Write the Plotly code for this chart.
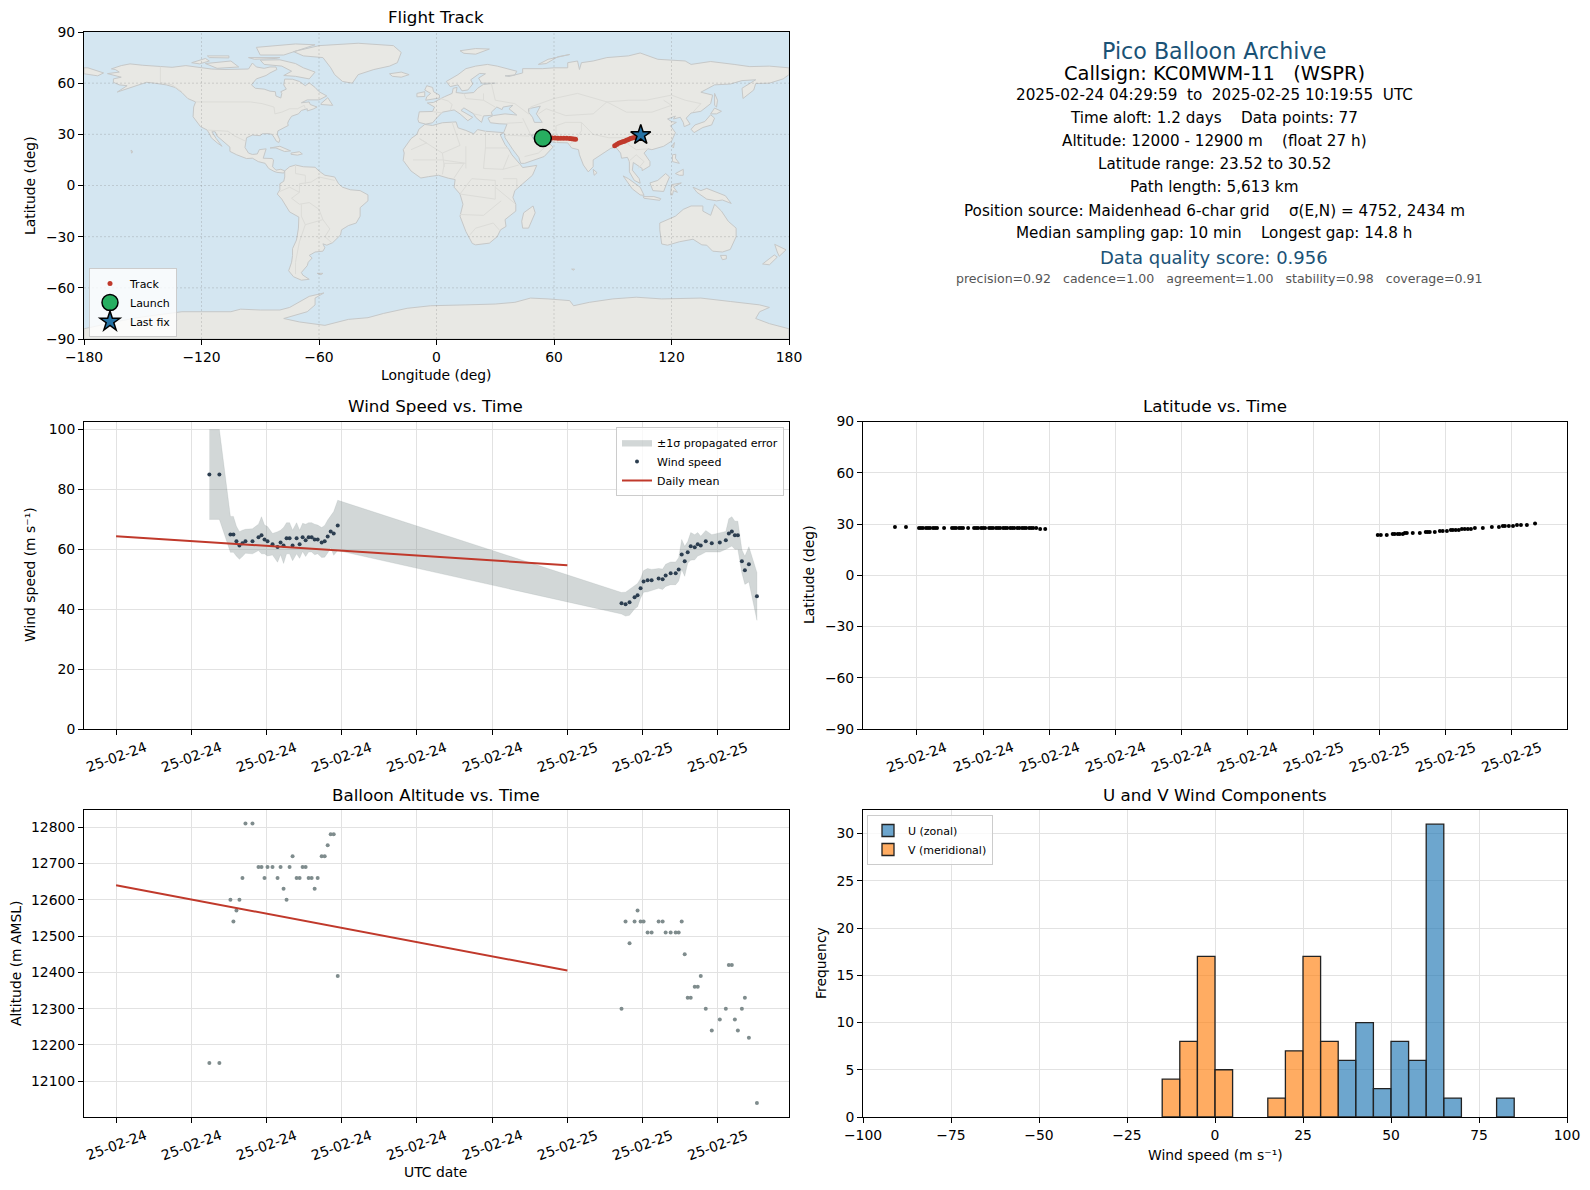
import plotly.graph_objects as go
import pandas as pd

W, H = 1590, 1190
FONT = "DejaVu Sans"
T0 = pd.Timestamp("2025-02-24")

# wind / altitude samples, hours after 2025-02-24 00:00 UTC
wind_hours = [9.72, 10.12, 10.56, 10.68, 10.80, 10.92, 11.04, 11.16, 11.44, 11.68, 11.80, 11.92,
              12.04, 12.24, 12.44, 12.56, 12.68, 12.80, 12.92, 13.04, 13.20, 13.32, 13.44, 13.56,
              13.68, 13.80, 13.92, 14.04, 14.20, 14.32, 14.44, 14.56, 14.68, 14.84,
              26.16, 26.32, 26.48, 26.68, 26.80, 26.92, 27.04, 27.20, 27.36, 27.64, 27.80, 27.92,
              28.12, 28.32, 28.44, 28.56, 28.68, 28.80, 28.92, 29.08, 29.20, 29.32, 29.52, 29.76,
              30.08, 30.32, 30.44, 30.56, 30.68, 30.80, 30.96, 31.08, 31.24, 31.56]
wind_speed = [85, 85, 65, 65, 62.7, 61.3, 62, 62.7, 62.7, 64, 64.7, 63.3,
              62.7, 61.7, 60.8, 62.3, 61.3, 63.7, 63.7, 61.3, 63.7, 61.7, 64, 63,
              64, 64, 63.3, 63.3, 62.3, 62.7, 64.3, 66, 65.3, 68,
              42, 41.7, 42.3, 44, 44.7, 47, 49.3, 49.7, 49.7, 50.3, 50, 51.3,
              52, 52, 53.3, 58.3, 56, 59, 61, 60.7, 61.7, 61.3, 62.7, 62,
              62.3, 63, 65.3, 66, 64.7, 64.7, 56, 53, 55, 44.3]
wind_err = [15, 15, 6, 6, 5, 4.6, 4.4, 4, 4.2, 4.4, 6.2, 4.8,
            4.9, 3.6, 5.1, 4.1, 6, 5.2, 5.2, 5.1, 5.2, 4.7, 4.7, 5.4,
            4.9, 4.9, 5.1, 4.8, 5, 5.3, 5.5, 5.4, 7.3, 8.4,
            3.6, 4, 4.3, 3.9, 3.9, 3.3, 3.6, 3.9, 3.6, 3.3, 3.4, 3.7,
            3.8, 3.8, 3.9, 5, 5, 3.6, 4.6, 4.2, 3.9, 3.1, 3.6, 2.9,
            3.2, 3, 4.9, 4.9, 4.7, 4.7, 3.9, 4.7, 5.9, 8]
altitude = [12150, 12150, 12600, 12540, 12570, 12600, 12660, 12810, 12810, 12690, 12690, 12660,
            12690, 12690, 12660, 12690, 12630, 12600, 12690, 12720, 12660, 12660, 12690, 12690,
            12660, 12660, 12630, 12660, 12720, 12720, 12750, 12780, 12780, 12390,
            12300, 12540, 12480, 12540, 12570, 12540, 12540, 12510, 12510, 12540, 12540, 12510,
            12510, 12510, 12510, 12540, 12450, 12330, 12330, 12360, 12360, 12390, 12300, 12240,
            12270, 12300, 12420, 12420, 12270, 12240, 12300, 12330, 12220, 12040]

mean_hours = [6, 24]
wind_mean = [64.4, 54.7]
alt_mean = [12640, 12405]

lat_hours = [5.0, 5.5, 6.09, 6.18, 6.27, 6.41, 6.5, 6.59, 6.73, 6.82, 6.91, 7.23, 7.59, 7.68, 7.77,
             7.91, 8.0, 8.09, 8.32, 8.59, 8.68, 8.77, 8.91, 9.0, 9.09, 9.27, 9.36, 9.45, 9.59, 9.68,
             9.77, 9.91, 10.0, 10.09, 10.23, 10.32, 10.41, 10.55, 10.64, 10.77, 10.86, 10.95, 11.09,
             11.18, 11.27, 11.41, 11.59, 11.82,
             26.91, 27.05, 27.32, 27.59, 27.68, 27.82, 27.91, 28.05, 28.14, 28.23, 28.5, 28.82, 29.09,
             29.18, 29.27, 29.5, 29.73, 29.86, 30.05, 30.23, 30.32, 30.45, 30.59, 30.73, 30.86, 31.0,
             31.14, 31.32, 31.68, 32.09, 32.41, 32.59, 32.68, 32.86, 33.05, 33.23, 33.41, 33.68, 34.05]
lat_deg = [28.25, 28.25, 27.66, 27.66, 27.66, 27.66, 27.66, 27.66, 27.66, 27.66, 27.66, 27.66, 27.66,
           27.66, 27.66, 27.66, 27.66, 27.66, 27.66, 27.66, 27.66, 27.66, 27.66, 27.66, 27.66, 27.66,
           27.66, 27.66, 27.66, 27.66, 27.66, 27.66, 27.66, 27.66, 27.66, 27.66, 27.66, 27.66, 27.66,
           27.66, 27.66, 27.66, 27.66, 27.66, 27.66, 27.66, 27.08, 27.08,
           23.57, 23.57, 23.57, 24.15, 24.15, 24.15, 24.15, 24.15, 24.74, 24.74, 24.74, 24.74, 25.32,
           25.32, 25.32, 25.32, 25.9, 25.9, 25.9, 26.5, 26.5, 26.5, 26.5, 27.08, 27.08, 27.08,
           27.08, 27.66, 27.66, 28.25, 28.25, 28.83, 28.83, 28.83, 28.83, 29.4, 29.4, 29.4, 30.3]

hist_u_centers = [37.5, 42.5, 47.5, 52.5, 57.5, 62.5, 67.5, 82.5]
hist_u_counts = [6, 10, 3, 8, 6, 31, 2, 2]
hist_v_centers = [-12.5, -7.5, -2.5, 2.5, 17.5, 22.5, 27.5, 32.5]
hist_v_counts = [4, 8, 17, 5, 2, 7, 17, 8]

track_lon = [55, 56, 57.5, 59, 60.5, 62, 63.5, 65, 66.5, 68, 69, 70, 71, None,
             91, 92, 93, 94, 95, 96, 97, 98, 99, 100, 101, 102, 103, 104]
track_lat = [28.2, 28, 27.9, 27.9, 27.8, 27.7, 27.7, 27.7, 27.7, 27.6, 27.4, 27.2, 27.1, None,
             23.3, 24, 24.7, 25.2, 25.6, 26, 26.5, 27, 27.5, 27.8, 28.2, 28.5, 29, 29.5]
launch_lon, launch_lat = [54.3], [27.9]
last_lon, last_lat = [104.3], [29.6]

date_ticks_wind = [6, 9, 12, 15, 18, 21, 24, 27, 30]
date_ticks_lat = [6, 9, 12, 15, 18, 21, 24, 27, 30, 33]
lon_ticks = [-180, -120, -60, 0, 60, 120, 180]
lat_ticks = [-90, -60, -30, 0, 30, 60, 90]

# land outlines, (lon, lat)
north_america = [(-168, 65.6), (-162, 66.5), (-164, 68), (-166, 68.4), (-161, 70.3), (-156.5, 71.3), (-150, 70.5),
                 (-141, 69.7), (-135, 69.3), (-128, 70.3), (-124, 69.8), (-115, 68.3), (-108, 68), (-102, 68),
                 (-96, 68.3), (-94, 71.8), (-92, 69.5), (-88, 68.7), (-85, 69.5), (-82, 69.5), (-81.5, 68), (-85, 66),
                 (-87, 64.5), (-92, 62.5), (-94.5, 59), (-92.5, 57), (-88, 56.5), (-85, 55.3), (-82.3, 55), (-82, 52.5),
                 (-79.5, 51.3), (-79, 54), (-79.5, 55), (-76.7, 56.5), (-78, 59), (-77.5, 62.4), (-73.5, 62.3), (-70, 61),
                 (-67, 58.5), (-65, 60.2), (-62, 57.5), (-60, 55), (-56, 52.5), (-60, 50.2), (-66, 50.2), (-69, 48.5),
                 (-65, 49), (-64.5, 47.5), (-61, 46), (-63, 44.8), (-66, 43.7), (-66, 45), (-69, 44), (-70.5, 42),
                 (-74, 40.6), (-75.5, 38), (-76, 36.5), (-75.7, 35.2), (-78, 33.9), (-81, 32), (-81.3, 30), (-80, 26.8),
                 (-80.5, 25.2), (-81.8, 26), (-82.8, 28), (-84, 30), (-86, 30.4), (-89, 30.3), (-90, 29.2), (-94, 29.6),
                 (-97, 28), (-97.5, 25), (-97.8, 22.3), (-96, 19), (-94, 18.2), (-91.5, 18.5), (-90.5, 21), (-87, 21.5),
                 (-87.8, 18.5), (-88.5, 16), (-84, 15.8), (-83.2, 15), (-83.7, 11), (-82, 9), (-79.5, 9.5), (-77.5, 8.6),
                 (-78, 7.3), (-80, 7.4), (-81.5, 7.7), (-83, 8.3), (-85.7, 10), (-87.5, 13), (-91, 14), (-94, 16),
                 (-97, 15.8), (-102, 18), (-105.5, 20), (-105.5, 22.5), (-109, 26), (-112, 29), (-113, 31.5),
                 (-114.7, 31.5), (-112.5, 27.5), (-110, 24), (-109.5, 23), (-112, 25), (-115, 28), (-116, 30.5),
                 (-117.2, 32.6), (-120.5, 34.5), (-122.5, 37.5), (-124.3, 40.3), (-124, 46), (-123, 49), (-127, 51),
                 (-130, 54.5), (-133.5, 57.5), (-138, 59), (-144, 60), (-148, 60.5), (-152, 59), (-158, 56.5),
                 (-163, 54.8), (-158, 58.5), (-162, 59), (-165, 60.5), (-165, 62.5), (-161, 63.5), (-165, 64.5),
                 (-168, 65.6)]
south_america = [(-77.5, 8.6), (-75, 11), (-72, 12), (-68, 11), (-62, 10.7), (-60, 8.5), (-57, 6), (-52, 5), (-50, 1),
                 (-48, -1), (-44, -2.5), (-39, -3), (-35, -5.5), (-35, -9), (-39, -13), (-39, -18), (-41, -22),
                 (-45, -23.5), (-48.5, -26), (-49, -29), (-53, -33.5), (-56, -35), (-58, -34.2), (-57, -36.5),
                 (-58, -38.5), (-62, -39), (-65, -41), (-63.5, -42.5), (-65.5, -45), (-66, -47), (-69, -51),
                 (-68.3, -52.5), (-65, -55), (-69, -55.5), (-73, -53.5), (-75.5, -50), (-74, -45), (-73.5, -41),
                 (-73.5, -37), (-71.5, -32), (-70.5, -25), (-70.3, -18.5), (-75, -15.5), (-79, -8), (-81.3, -5),
                 (-80, -2.5), (-80, 1), (-78, 2.5), (-77.5, 5), (-77.5, 8.6)]
africa = [(-6, 35.8), (-2, 35.2), (3, 36.8), (10, 37.3), (11, 33.8), (15, 32.3), (19, 30.3), (21, 32.8), (25, 31.8),
          (32, 31.2), (34.3, 31), (32.5, 29.8), (35, 24), (37, 21), (38.5, 18), (43, 12), (44, 10.5), (51.2, 11.8),
          (49, 6), (44, 1), (40, -3), (39, -7), (40.5, -11), (40.5, -15), (35, -20), (35.5, -24), (32.7, -26), (31, -30),
          (27, -33.8), (20, -34.8), (18.3, -34), (15, -27), (12, -18), (13.5, -11), (12, -5), (9, -1), (9.5, 3.5),
          (6, 4.3), (1, 6), (-4, 5.2), (-8, 4.4), (-13, 8.5), (-17, 14.7), (-16.5, 19), (-17, 21), (-13, 27.5),
          (-10, 30), (-9, 33), (-6, 35.8)]
eurasia = [(-9, 37), (-9.5, 38.8), (-8.8, 43.2), (-2, 43.4), (-1, 46), (-4.7, 48.4), (-1.5, 48.7), (2, 51), (4, 52),
           (8, 54), (8.5, 57), (10.5, 57.5), (10, 54.5), (14, 54), (19, 54.5), (21, 57), (24, 59.3), (30, 60), (23, 60),
           (21.5, 63), (25, 65.5), (22, 65.7), (17.5, 62), (18.5, 59.5), (16, 56), (13, 55.5), (11, 59), (7, 58), (5, 61),
           (11, 65), (15, 68.5), (20, 70), (26, 71), (31, 70), (41, 67), (40, 64.8), (35, 64.3), (37, 63.9), (44, 66),
           (44, 68.5), (54, 68.5), (60, 69), (67, 69), (67, 72), (72, 73), (73, 68), (74, 72), (80, 73), (87, 75),
           (98, 76), (104, 77.7), (113, 74), (127, 73), (130, 71), (140, 72.7), (152, 71), (160, 69.7), (170, 70),
           (180, 69), (180, 65), (177, 62.5), (170, 60), (163, 59.8), (162, 56), (156.5, 51), (156, 57), (163, 62),
           (156, 61.5), (150, 59.5), (142, 59), (135, 54.7), (141, 53), (140, 48), (135, 43.5), (130, 42.5),
           (127.5, 39.5), (129.5, 36), (126.5, 34.5), (126, 37), (124.5, 40), (121, 39), (122, 40.7), (118, 39),
           (120, 37.5), (122.5, 37), (119.5, 35), (122, 31), (120, 26), (116, 23), (110, 21), (108, 21.5), (106, 19),
           (109, 14), (109, 11.5), (105, 8.7), (105, 10), (100.5, 13.5), (100, 9), (103.5, 4), (104, 1.3), (101, 3),
           (98.5, 8), (98.5, 14), (97.5, 16.5), (94.5, 16), (94, 19), (91.5, 22.5), (89, 21.8), (86.5, 20), (82, 16.5),
           (80, 15), (80, 11), (77.5, 8), (75, 12), (73, 18), (72.5, 21), (69, 22), (67, 25), (61, 25.2), (57, 26),
           (56, 27), (51, 28), (48, 30), (50, 26.5), (51.5, 25), (54, 24), (56.5, 26), (59.5, 22.5), (55, 17), (45, 13),
           (43, 13), (42, 16.5), (39, 21), (35, 28), (34.9, 29.5), (34.3, 31), (36, 36), (32, 36.2), (27.5, 36.8),
           (26.3, 39.5), (29, 41), (35, 42), (41, 41.3), (37, 45), (39, 47), (34, 46), (33.5, 44.5), (30.8, 46), (28, 43),
           (28.5, 41.2), (24, 40.8), (23, 37), (20, 40), (19, 42), (14, 45.5), (12.5, 44), (16, 41.5), (18.5, 40),
           (16, 38), (12, 42), (9, 44.3), (3, 43), (0, 39.5), (-2, 36.8), (-5.5, 36), (-9, 37)]
australia = [(114, -22), (122, -18), (126, -14), (130, -12), (136, -12), (136, -15), (140, -17.5), (142, -11),
             (145.5, -15), (149, -21), (153, -25), (153, -30), (150, -37.5), (146, -39), (141, -38.5), (138, -35),
             (135.5, -34.8), (131, -31.5), (124, -33), (118, -35), (115, -34.3), (114, -26), (114, -22)]
antarctica = [(-180, -84), (-160, -79), (-150, -77), (-130, -74), (-105, -74), (-100, -72.5), (-90, -73), (-80, -73),
              (-75, -71.5), (-70, -68), (-65, -65), (-57.5, -63), (-62, -66), (-62, -70), (-66, -74), (-78, -78),
              (-70, -80), (-57, -82), (-45, -78.5), (-35, -77.5), (-27, -75), (-15, -72), (-3, -70.5), (15, -70),
              (30, -69.5), (40, -68.5), (48, -66), (57, -66.5), (68, -67.5), (70, -70.5), (78, -68.5), (90, -66.5),
              (102, -65.5), (115, -66.5), (135, -66), (150, -68), (165, -70), (170, -71.5), (165, -74), (163, -78),
              (170, -81), (180, -84), (180, -90), (-180, -90), (-180, -84)]
islands = [
    [(-73, 78.5), (-60, 82), (-40, 83.4), (-22, 82), (-18, 78), (-20, 72), (-24, 70), (-32, 68), (-40, 65), (-43, 60),
     (-48, 61), (-52, 65), (-54, 69), (-58, 75), (-68, 76), (-73, 78.5)],
    [(-80, 73.7), (-72, 71.5), (-68, 69), (-62, 66.5), (-65, 62.5), (-72, 64), (-78, 64.5), (-74, 67), (-79, 70),
     (-88, 71), (-90, 73.5), (-80, 73.7)],
    [(-118, 71.5), (-105, 73), (-101, 69.5), (-112, 68.7), (-118, 71.5)],
    [(-90, 76.5), (-78, 76.5), (-62, 82.5), (-72, 83), (-92, 81), (-90, 76.5)],
    [(-125, 72), (-118, 74.5), (-116, 73), (-121, 71.3), (-125, 72)],
    [(-96, 75), (-80, 75), (-82, 74.5), (-93, 74), (-96, 75)],
    [(-117, 76), (-106, 76), (-106, 74.8), (-116, 75), (-117, 76)],
    [(-59, 48), (-55.5, 51.5), (-53, 47), (-59, 47.5), (-59, 48)],
    [(-85, 22), (-80, 23), (-74.5, 20.3), (-77.5, 19.9), (-82, 22), (-85, 22)],
    [(-74.3, 19), (-70, 19.8), (-68.5, 18.5), (-71, 17.8), (-74.3, 18.3), (-74.3, 19)],
    [(-156, 20.8), (-155, 19.8), (-155.7, 19), (-156, 20.8)],
    [(49.3, -12), (50.4, -16), (47, -25), (44, -25), (43.5, -21), (44.5, -16), (49.3, -12)],
    [(-5.5, 50), (1.5, 51.3), (1.5, 53), (-1.5, 55), (-2, 57.5), (-5, 58.5), (-6, 56), (-3, 54), (-5, 52), (-5.5, 50)],
    [(-10, 52), (-6, 52.2), (-6, 55), (-10, 54), (-10, 52)],
    [(-24, 65.5), (-18, 66.5), (-14, 65), (-18, 63.5), (-22.5, 64), (-24, 65.5)],
    [(12, 79), (20, 80.3), (27, 80), (20, 77), (14, 77.5), (12, 79)],
    [(52, 71), (57, 74), (68, 76.8), (62, 75.5), (56, 71.5), (52, 71)],
    [(80, 9.5), (82, 7.5), (80.5, 6), (80, 9.5)],
    [(130, 33), (132, 35.5), (137, 37.5), (140, 41.5), (142, 39.5), (140.5, 35.5), (136, 34), (131.5, 31), (130, 33)],
    [(140, 42), (142, 45.4), (145.5, 43.5), (143, 42), (140, 42)],
    [(142, 54), (143.5, 50), (143, 46), (142, 47), (142, 54)],
    [(120.2, 23), (121.5, 25.2), (121, 22), (120.2, 23)],
    [(120.5, 18), (122.2, 18.3), (122, 16), (124, 13), (120.5, 14), (120.5, 18)],
    [(122, 7), (126, 9.5), (126, 6), (124, 6), (122, 7)],
    [(109, 1.5), (113, 3), (117, 7), (119, 5), (117.5, 1), (116, -3.5), (110.5, -3), (109, 1.5)],
    [(95.3, 5.6), (98, 4), (104, -1), (106, -5.8), (104, -5.5), (100, -2), (95.3, 5.6)],
    [(105.5, -6.5), (111, -6.5), (114.5, -7.7), (114, -8.7), (106, -7.5), (105.5, -6.5)],
    [(119.5, -5.5), (120, 0.5), (125, 1.5), (121, -0.8), (123, -4), (121, -3), (120.5, -5.5), (119.5, -5.5)],
    [(131, -1), (135, -3), (138, -1.7), (145, -5), (147.5, -6), (150.5, -10.5), (146, -8.5), (143, -9), (138, -8),
     (133, -4), (131, -1)],
    [(145, -41), (148, -41), (148, -43), (146, -43.5), (145, -41)],
    [(172.7, -34.5), (178.5, -37.7), (175, -41.5), (174, -39), (172.7, -34.5)],
    [(172.5, -40.7), (174, -42), (170, -46.5), (166.5, -46), (172.5, -40.7)],
    [(-61, -51.5), (-58, -51.5), (-59, -52.3), (-61, -51.5)],
    [(69, -49), (70.5, -49), (70, -49.7), (69, -49)],
    [(-180, 65.5), (-173, 64.3), (-170, 66), (-178, 69), (-180, 69), (-180, 65.5)],
]
caspian = [(47, 45), (53, 46.5), (51, 42), (54, 37), (50, 37), (49, 40), (47, 43), (47, 45)]

borders = [
    [(-141, 69.7), (-141, 60.3), (-135, 59), (-130, 55)],
    [(-123, 49), (-95, 49), (-89, 48), (-83, 46), (-82.5, 42), (-79, 43), (-75, 45), (-71, 45), (-67.5, 47), (-67, 45)],
    [(-117, 32.5), (-106.5, 31.8), (-103, 29), (-97.5, 26)],
    [(-52, 3), (-60, 5), (-64, 2), (-70, 1), (-70, -4), (-74, -7.5), (-70, -11), (-65, -10), (-60, -14), (-58, -20),
     (-54.5, -25.5), (-57, -30), (-53.5, -33.5)],
    [(-69, -18), (-67, -23), (-70, -33), (-72, -45), (-72, -52)],
    [(-69, -11), (-69, -18)], [(-67, -23), (-58, -20)],
    [(-72, 12), (-72, 7), (-67, 6), (-67, 1)], [(-80, -3.5), (-75, -1), (-70, -4)],
    [(-8.7, 27.5), (3, 19), (12, 23.5), (10, 30), (8, 37)], [(25, 31.8), (25, 22), (36.5, 22)],
    [(25, 22), (24, 10), (34, 9.5), (37, 18)], [(15, 23), (15, 10)], [(3, 19), (4, 11)],
    [(3, 6.5), (4, 13), (14, 13), (9, 4.5)], [(12, -5), (30, -8), (30, 3), (18, 4), (12, -5)],
    [(12, -17), (24, -17.5), (33, -9)], [(30, -1), (40, -10.5)], [(34, 4), (41, 4), (41, -1.5)],
    [(34, 9.5), (42, 12)], [(17, -29), (20, -25), (29, -22), (32, -26)], [(-13, 21), (-5, 25), (-8.7, 27.5)],
    [(-12, 15), (3, 15), (15, 13)],
    [(28, 60), (30, 50), (40, 48), (47, 42), (48, 46), (60, 51), (72, 54), (87, 49), (98, 50), (107, 50), (120, 53),
     (127, 50), (135, 48), (131, 43)],
    [(87, 49), (97, 43), (110, 43), (120, 47), (116, 50)],
    [(74, 37), (80, 30), (88, 28), (97, 28), (98, 24), (102, 21), (108, 21.5)],
    [(61, 25), (63, 27), (61, 30), (61, 35), (66, 37), (74, 37)], [(68, 24), (71, 27), (74, 32), (74, 37)],
    [(52, 42), (56, 45), (66, 41), (80, 42), (87, 49)], [(48, 30), (46, 35), (44, 39.5)],
    [(35, 29.5), (47, 29), (48, 30)], [(45, 17), (52, 19), (55, 22), (52, 24.5)], [(36, 36.5), (44, 37)],
    [(2, 51), (6, 49.5), (8, 47.5), (7, 44)], [(-1.7, 43.3), (3, 42.5)], [(14, 54), (15, 51), (24, 50), (24, 54)],
    [(24, 50), (30, 46)], [(19, 42), (23, 41)], [(98, 14), (102, 18), (106, 14), (103, 10)],
]


def hours_to_dates(hours):
    return [str(T0 + pd.to_timedelta(h, unit="h")) for h in hours]


def join_paths(paths):
    lon, lat = [], []
    for path in paths:
        lon += [p[0] for p in path] + [None]
        lat += [p[1] for p in path] + [None]
    return lon, lat


def dom_x(left, right):
    return [left / W, right / W]


def dom_y(top, bottom):
    return [1 - bottom / H, 1 - top / H]


def label(fig, px, py, text, size=13.9, color="black", angle=0):
    fig.add_annotation(x=px / W, y=1 - py / H, xref="paper", yref="paper", text=text, showarrow=False,
                       xanchor="center", yanchor="middle", textangle=angle, font=dict(size=size, color=color))


L0, L1, R0, R1 = 84, 789, 863, 1567
ROWS = [(32, 339), (421.5, 729), (809.5, 1117)]
GRID = "#e2e2e2"
RED = "#c0392b"

axis_style = dict(showline=True, mirror=True, linecolor="black", linewidth=1, ticks="outside", ticklen=5,
                  tickwidth=1, tickcolor="black", gridcolor=GRID, gridwidth=1, zeroline=False,
                  tickfont=dict(size=13.9, color="black"), layer="above traces")

fig = go.Figure()

# map
land_lon, land_lat = join_paths([north_america, south_america, africa, eurasia, australia, antarctica] + islands)
fig.add_trace(go.Scatter(x=land_lon, y=land_lat, mode="lines", fill="toself", fillcolor="#e8e8e4",
                         line=dict(color="#c6c8c8", width=1), showlegend=False, hoverinfo="skip"))
fig.add_trace(go.Scatter(x=[p[0] for p in caspian], y=[p[1] for p in caspian], mode="lines", fill="toself",
                         fillcolor="#d4e6f1", line=dict(color="#c6c8c8", width=1), showlegend=False, hoverinfo="skip"))
border_lon, border_lat = join_paths(borders)
fig.add_trace(go.Scatter(x=border_lon, y=border_lat, mode="lines", line=dict(color="#dcdcd8", width=1),
                         showlegend=False, hoverinfo="skip"))
grid_lon, grid_lat = [], []
for lon in lon_ticks[1:-1]:
    grid_lon += [lon, lon, None]
    grid_lat += [-90, 90, None]
for lat in lat_ticks[1:-1]:
    grid_lon += [-180, 180, None]
    grid_lat += [lat, lat, None]
fig.add_trace(go.Scatter(x=grid_lon, y=grid_lat, mode="lines", showlegend=False, hoverinfo="skip",
                         line=dict(color="rgba(120,120,120,0.25)", width=1, dash="2px,2px")))
fig.add_trace(go.Scatter(x=track_lon, y=track_lat, mode="markers", name="Track", legend="legend",
                         marker=dict(color=RED, size=5)))
fig.add_trace(go.Scatter(x=launch_lon, y=launch_lat, mode="markers", name="Launch", legend="legend",
                         marker=dict(color="#27ae60", size=17, line=dict(color="black", width=1.5))))
fig.add_trace(go.Scatter(x=last_lon, y=last_lat, mode="markers", name="Last fix", legend="legend",
                         marker=dict(color="#2471a3", size=15, symbol="star", line=dict(color="black", width=1.5))))

# wind speed
wind_dates = hours_to_dates(wind_hours)
upper = [v + e for v, e in zip(wind_speed, wind_err)]
lower = [v - e for v, e in zip(wind_speed, wind_err)]
fig.add_trace(go.Scatter(x=wind_dates + wind_dates[::-1], y=upper + lower[::-1], mode="lines", fill="toself",
                         fillcolor="rgba(127,140,141,0.35)", line=dict(color="rgba(127,140,141,0.15)", width=1),
                         name="±1σ propagated error", legend="legend2", xaxis="x2", yaxis="y2"))
fig.add_trace(go.Scatter(x=wind_dates, y=wind_speed, mode="markers", name="Wind speed", legend="legend2",
                         marker=dict(color="#2c3e50", size=4), xaxis="x2", yaxis="y2"))
fig.add_trace(go.Scatter(x=hours_to_dates(mean_hours), y=wind_mean, mode="lines", name="Daily mean", legend="legend2",
                         line=dict(color=RED, width=2), xaxis="x2", yaxis="y2"))

# latitude
fig.add_trace(go.Scatter(x=hours_to_dates(lat_hours), y=lat_deg, mode="markers", showlegend=False,
                         marker=dict(color="black", size=4), xaxis="x3", yaxis="y3"))

# altitude
fig.add_trace(go.Scatter(x=wind_dates, y=altitude, mode="markers", showlegend=False,
                         marker=dict(color="#7f8c8d", size=4), xaxis="x4", yaxis="y4"))
fig.add_trace(go.Scatter(x=hours_to_dates(mean_hours), y=alt_mean, mode="lines", showlegend=False,
                         line=dict(color=RED, width=2), xaxis="x4", yaxis="y4"))

# histogram
fig.add_trace(go.Bar(x=hist_u_centers, y=hist_u_counts, width=5, name="U (zonal)", legend="legend3",
                     marker=dict(color="rgba(31,119,180,0.65)", line=dict(color="#222", width=1.3)),
                     xaxis="x5", yaxis="y5"))
fig.add_trace(go.Bar(x=hist_v_centers, y=hist_v_counts, width=5, name="V (meridional)", legend="legend3",
                     marker=dict(color="rgba(255,127,14,0.65)", line=dict(color="#222", width=1.3)),
                     xaxis="x5", yaxis="y5"))

wind_range = hours_to_dates([4.72, 32.84])
lat_range = hours_to_dates([3.55, 35.5])
legend_style = dict(font=dict(size=11, color="black"), bgcolor="rgba(255,255,255,0.8)", bordercolor="#cccccc",
                    borderwidth=1, yanchor="top")

fig.update_layout(
    width=W, height=H, margin=dict(l=0, r=0, t=0, b=0, autoexpand=False), paper_bgcolor="white", plot_bgcolor="white",
    font=dict(family=FONT, color="black"), barmode="overlay", hovermode="closest",
    xaxis=dict(domain=dom_x(L0, L1), range=[-180, 180], tickvals=lon_ticks, showgrid=False, anchor="y", **axis_style),
    yaxis=dict(domain=dom_y(*ROWS[0]), range=[-90, 90], tickvals=lat_ticks, showgrid=False, anchor="x", **axis_style),
    xaxis2=dict(domain=dom_x(L0, L1), range=wind_range, tickvals=hours_to_dates(date_ticks_wind), showticklabels=False,
                anchor="y2", type="date", **axis_style),
    yaxis2=dict(domain=dom_y(*ROWS[1]), range=[0, 102.7], tickvals=[0, 20, 40, 60, 80, 100], anchor="x2", **axis_style),
    xaxis3=dict(domain=dom_x(R0, R1), range=lat_range, tickvals=hours_to_dates(date_ticks_lat), showticklabels=False,
                anchor="y3", type="date", **axis_style),
    yaxis3=dict(domain=dom_y(*ROWS[1]), range=[-90, 90], tickvals=lat_ticks, anchor="x3", **axis_style),
    xaxis4=dict(domain=dom_x(L0, L1), range=wind_range, tickvals=hours_to_dates(date_ticks_wind), showticklabels=False,
                anchor="y4", type="date", **axis_style),
    yaxis4=dict(domain=dom_y(*ROWS[2]), range=[12001.5, 12848.5], dtick=100, tick0=12000, tickformat="d", anchor="x4",
                **axis_style),
    xaxis5=dict(domain=dom_x(R0, R1), range=[-100, 100], tickvals=[-100, -75, -50, -25, 0, 25, 50, 75, 100],
                anchor="y5", **axis_style),
    yaxis5=dict(domain=dom_y(*ROWS[2]), range=[0, 32.55], tickvals=[0, 5, 10, 15, 20, 25, 30], anchor="x5", **axis_style),
    legend=dict(x=89 / W, y=1 - 268 / H, xanchor="left", **legend_style),
    legend2=dict(x=784 / W, y=1 - 427 / H, xanchor="right", **legend_style),
    legend3=dict(x=867 / W, y=1 - 815 / H, xanchor="left", **legend_style),
    shapes=[dict(type="rect", xref="x domain", yref="y domain", x0=0, x1=1, y0=0, y1=1, fillcolor="#d4e6f1",
                 line=dict(width=0), layer="below")],
)

# panel titles and axis titles
label(fig, 435.5, 17.5, "Flight Track", 16.7)
label(fig, 435.5, 405.5, "Wind Speed vs. Time", 16.7)
label(fig, 1215, 405.5, "Latitude vs. Time", 16.7)
label(fig, 435.5, 795, "Balloon Altitude vs. Time", 16.7)
label(fig, 1215, 795, "U and V Wind Components", 16.7)
label(fig, 436, 374.5, "Longitude (deg)")
label(fig, 435, 1172, "UTC date")
label(fig, 1215, 1155, "Wind speed (m s⁻¹)")
label(fig, 30, 186, "Latitude (deg)", angle=-90)
label(fig, 30, 575, "Wind speed (m s⁻¹)", angle=-90)
label(fig, 809, 575, "Latitude (deg)", angle=-90)
label(fig, 16, 963, "Altitude (m AMSL)", angle=-90)
label(fig, 821, 963, "Frequency", angle=-90)

# date tick labels are centred on the ticks, plotly would anchor them at the end
for axis, ticks, bottom in [("x2", date_ticks_wind, ROWS[1][1]), ("x3", date_ticks_lat, ROWS[1][1]),
                            ("x4", date_ticks_wind, ROWS[2][1])]:
    for date in hours_to_dates(ticks):
        fig.add_annotation(x=date, xref=axis, y=1 - (bottom + 28) / H, yref="paper", showarrow=False, textangle=-20,
                           text=pd.Timestamp(date).strftime("%y-%m-%d"), xanchor="center", yanchor="middle",
                           font=dict(size=13.9, color="black"))

# summary block
BLUE = "#1a5276"
label(fig, 1214, 51.5, "Pico Balloon Archive", 22.2, BLUE)
label(fig, 1214, 73.5, "Callsign: KC0MWM-11   (WSPR)", 19.4)
label(fig, 1214, 95, "2025-02-24 04:29:59  to  2025-02-25 10:19:55  UTC", 15.2)
label(fig, 1214, 118, "Time aloft: 1.2 days    Data points: 77", 15.2)
label(fig, 1214, 140.5, "Altitude: 12000 - 12900 m    (float 27 h)", 15.2)
label(fig, 1214, 164, "Latitude range: 23.52 to 30.52", 15.2)
label(fig, 1214, 186.5, "Path length: 5,613 km", 15.2)
label(fig, 1214, 210.5, "Position source: Maidenhead 6-char grid    σ(E,N) = 4752, 2434 m", 15.2)
label(fig, 1214, 233, "Median sampling gap: 10 min    Longest gap: 14.8 h", 15.2)
label(fig, 1214, 257.5, "Data quality score: 0.956", 18, BLUE)
label(fig, 1219, 278, "precision=0.92   cadence=1.00   agreement=1.00   stability=0.98   coverage=0.91", 12.55, "#555555")

fig.write_html("out.html", config={"displayModeBar": False}, post_script="document.body.style.margin='0';")
